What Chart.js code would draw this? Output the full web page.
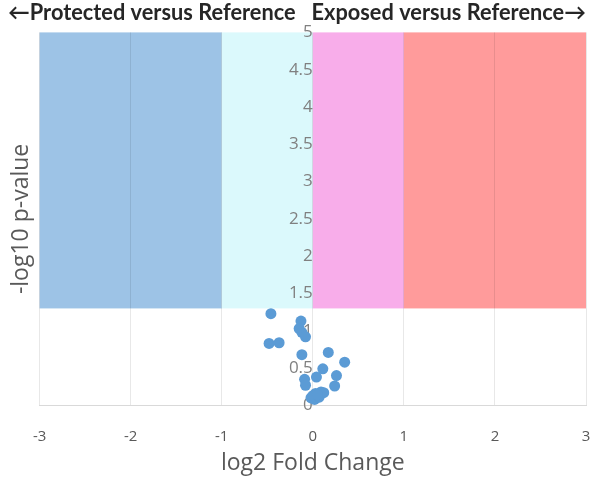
<!DOCTYPE html>
<html>
<head>
<meta charset="utf-8">
<script src="https://cdn.jsdelivr.net/npm/chart.js@4.4.0/dist/chart.umd.min.js"></script>
<style>
    body { margin: 0; background: #fff; }
    #wrap { width: 600px; height: 483px; }
</style>
</head>
<body>
<div id="wrap"><canvas id="myChart"></canvas></div>
<script>
// log2 fold change / -log10 p-value pairs
const foldChanges = [-0.46, -0.13, -0.15, -0.12, -0.08, -0.48, -0.37, -0.12, 0.17, 0.35,
    0.11, 0.04, 0.26, -0.09, -0.08, 0.24, 0.09, 0.03, -0.02, 0.02, 0.07, 0.12, 0.0, 0.05];
const pValues = [1.23, 1.13, 1.03, 0.98, 0.92, 0.83, 0.84, 0.68, 0.71, 0.58,
    0.49, 0.38, 0.40, 0.35, 0.27, 0.26, 0.18, 0.16, 0.10, 0.08, 0.11, 0.17, 0.13, 0.14];

// shaded regions above the significance cut-off
const bandFrom = [-3, -1, 0, 1];
const bandTo = [-1, 0, 1, 3];
const bandColors = ['#9dc3e6', '#dbf9fc', '#f8adea', '#ff9b9b'];
const bandBottom = 1.3;
const bandTop = 5;

const bandsPlugin = {
    id: 'bands',
    beforeDraw(chart) {
        const ctx = chart.ctx;
        const x = chart.scales.x;
        const y = chart.scales.y;
        ctx.save();
        for (let i = 0; i < bandFrom.length; i++) {
            const left = x.getPixelForValue(bandFrom[i]);
            const right = x.getPixelForValue(bandTo[i]);
            const top = y.getPixelForValue(bandTop);
            const bottom = y.getPixelForValue(bandBottom);
            ctx.fillStyle = bandColors[i];
            ctx.fillRect(left, top, right - left, bottom - top);
        }
        ctx.restore();
    }
};

function createChart() {
    const ctx = document.getElementById('myChart').getContext('2d');
    const points = foldChanges.map((fc, i) => ({ x: fc, y: pValues[i] }));
    return new Chart(ctx, {
        type: 'scatter',
        data: {
            datasets: [{
                data: points,
                backgroundColor: '#5b9bd5',
                borderWidth: 0,
                pointRadius: 5.5,
                pointHoverRadius: 5.5
            }]
        },
        options: {
            responsive: true,
            maintainAspectRatio: false,
            animation: false,
            layout: {
                padding: { left: 8, right: 14, top: 0, bottom: 6 }
            },
            plugins: {
                legend: { display: false },
                tooltip: { enabled: false },
                title: {
                    display: true,
                    text: '\u2190Protected versus Reference   Exposed versus Reference\u2192',
                    color: '#262626',
                    font: { family: 'Lato', size: 22, weight: 'bold' },
                    padding: { top: 0, bottom: 6 }
                }
            },
            scales: {
                x: {
                    type: 'linear',
                    position: 'bottom',
                    min: -3,
                    max: 3,
                    ticks: {
                        stepSize: 1,
                        color: '#595959',
                        font: { family: 'Open Sans', size: 15 },
                        padding: 4
                    },
                    grid: {
                        color: 'rgba(0,0,0,0.09)',
                        drawTicks: true,
                        tickLength: 18,
                        tickColor: 'transparent'
                    },
                    border: { color: '#d9d9d9' },
                    title: {
                        display: true,
                        text: 'log2 Fold Change',
                        color: '#595959',
                        font: { family: 'Open Sans', size: 23 },
                        padding: { top: 0, bottom: 0 }
                    }
                },
                y: {
                    type: 'linear',
                    position: { x: 0 },
                    min: 0,
                    max: 5,
                    ticks: {
                        stepSize: 0.5,
                        color: '#808080',
                        font: { family: 'Open Sans', size: 17 },
                        padding: 10,
                        callback: value => String(value)
                    },
                    grid: { display: false, drawTicks: false },
                    border: { display: false }
                },
                yTitle: {
                    type: 'linear',
                    position: 'left',
                    ticks: { display: false },
                    grid: { display: false, drawTicks: false },
                    border: { display: false },
                    title: {
                        display: true,
                        text: '-log10 p-value',
                        color: '#595959',
                        font: { family: 'Open Sans', size: 23 },
                        padding: { top: 0, bottom: 4 }
                    }
                }
            }
        },
        plugins: [bandsPlugin]
    });
}

let chart = createChart();
</script>
</body>
</html>
